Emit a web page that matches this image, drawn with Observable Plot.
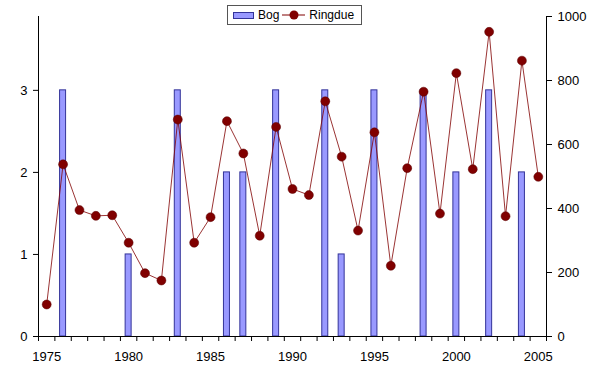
<!DOCTYPE html>
<html>
<head>
<meta charset="utf-8">
<script src="https://cdn.jsdelivr.net/npm/d3@7"></script>
<script src="https://cdn.jsdelivr.net/npm/@observablehq/plot@0.6"></script>
<style>
  html, body { margin: 0; padding: 0; background: #fff; }
  #wrap { position: relative; width: 600px; height: 374px; font-family: "Liberation Sans", Arial, sans-serif; }
  #legend { position: absolute; left: 227px; top: 5px; width: 135px; height: 20px; border: 1px solid #555; background: #fff;
            font-size: 12px; display: flex; align-items: center; box-sizing: border-box; }
  #legend .sw { display: inline-block; width: 19px; height: 5px; background: #9999ff; border: 1px solid #333399; margin-left: 5px; margin-right: 4px; }
  #legend svg { margin-left: 3px; margin-right: 4px; }
</style>
</head>
<body>
<div id="wrap">
  <div id="legend"><span class="sw"></span><span>Bog</span><svg width="23" height="12"><line x1="0" y1="6" x2="23" y2="6" stroke="#800000" stroke-width="1"/><circle cx="12" cy="6" r="4.5" fill="#800000"/></svg><span>Ringdue</span></div>
</div>
<script>
const years = d3.range(1975, 2006);
const ringdue = [100, 538, 395, 377, 379, 293, 198, 175, 678, 293, 373, 673, 572, 315, 655, 461, 442, 735, 562, 331, 638, 221, 526, 765, 384, 823, 523, 952, 376, 862, 499];
const bogYears = [1976, 1980, 1983, 1986, 1987, 1989, 1992, 1993, 1995, 1998, 2000, 2002, 2004];
const bogValues = [3, 1, 3, 2, 2, 3, 3, 1, 3, 3, 2, 3, 2];
const leftTicks = [0, 1, 2, 3];
const rightTicks = [0, 200, 400, 600, 800, 1000];
const labelYears = [1975, 1980, 1985, 1990, 1995, 2000, 2005];

const leftMax = 3.9;
const rightMax = 1000;
const k = leftMax / rightMax;
const halfBar = 0.183;

const bog = bogYears.map((y, i) => ({year: y, value: bogValues[i]}));
const line = years.map((y, i) => ({year: y, value: ringdue[i], scaled: ringdue[i] * k}));

const chart = Plot.plot({
  width: 600,
  height: 374,
  marginLeft: 38,
  marginRight: 54,
  marginTop: 16,
  marginBottom: 38,
  style: {fontFamily: "Liberation Sans, Arial, sans-serif", fontSize: "13px", color: "#000", background: "#fff"},
  x: {type: "linear", domain: [1974.5, 2005.5]},
  y: {domain: [0, leftMax]},
  marks: [
    Plot.rectY(bog, {x1: d => d.year - halfBar, x2: d => d.year + halfBar, y: "value", fill: "#9999ff", stroke: "#333399", strokeWidth: 1}),
    Plot.ruleY([0], {stroke: "#000"}),
    Plot.ruleX([1974.5, 2005.5], {y1: 0, y2: leftMax, stroke: "#000"}),
    Plot.axisX({ticks: d3.range(1974.5, 2006, 1), tickFormat: () => "", tickSize: 5, label: null, stroke: "#000"}),
    Plot.axisX({ticks: labelYears, tickFormat: d => String(d), tickSize: 0, tickPadding: 15, label: null, fontSize: 13}),
    Plot.axisY({ticks: leftTicks, tickFormat: d => String(d), tickSize: 5, tickPadding: 6, label: null, anchor: "left", fontSize: 13}),
    Plot.axisY({ticks: rightTicks.map(v => v * k), tickFormat: v => String(Math.round(v / k)), tickSize: 5, tickPadding: 6, label: null, anchor: "right", fontSize: 13}),
    Plot.line(line, {x: "year", y: "scaled", stroke: "#800000", strokeWidth: 0.8}),
    Plot.dot(line, {x: "year", y: "scaled", r: 4.5, fill: "#800000", stroke: "#5a0000", strokeWidth: 0.5})
  ]
});
document.getElementById("wrap").prepend(chart);
chart.style.position = "absolute";
chart.style.left = "0";
chart.style.top = "0";
document.getElementById("wrap").appendChild(document.getElementById("legend"));
</script>
</body>
</html>
